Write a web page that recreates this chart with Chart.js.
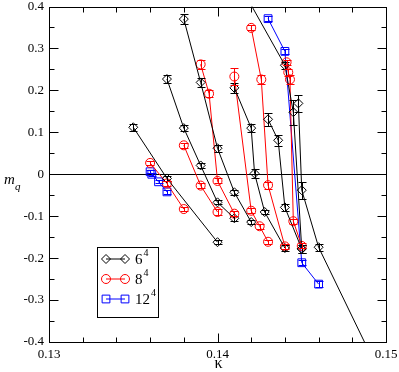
<!DOCTYPE html>
<html>
<head>
<meta charset="utf-8">
<script src="https://cdn.jsdelivr.net/npm/chart.js@4.4.0/dist/chart.umd.min.js"></script>
<style>
  body { margin: 0; background: #fff; }
  #wrap { width: 399px; height: 372px; }
</style>
</head>
<body>
<div id="wrap"><canvas id="chart" width="399" height="372"></canvas></div>
<script>
// kappa / m_q / error, one inner array per line of points
var kap6 = [
  [0.135, 0.137, 0.140],
  [0.137, 0.138, 0.139, 0.140, 0.141],
  [0.138, 0.139, 0.140, 0.141, 0.142],
  [0.141, 0.142, 0.1422, 0.1428, 0.144],
  [0.143, 0.1436, 0.144, 0.145],
  [0.141, 0.144, 0.1445, 0.145],
  [0.1448, 0.145, 0.146, 0.149]
];
var mq6 = [
  [0.112, -0.010, -0.162],
  [0.227, 0.110, 0.021, -0.067, -0.105],
  [0.370, 0.219, 0.062, -0.043, -0.114],
  [0.206, 0.110, 0.002, -0.090, -0.176],
  [0.131, 0.081, -0.079, -0.178],
  [0.475, 0.260, 0.148, -0.178],
  [0.169, -0.038, -0.174, -0.423]
];
var err6 = [
  [0.008, 0.005, 0.005],
  [0.010, 0.008, 0.006, 0.005, 0.006],
  [0.012, 0.010, 0.008, 0.006, 0.005],
  [0.012, 0.010, 0.010, 0.005, 0.008],
  [0.015, 0.013, 0.008, 0.010],
  [0, 0.008, 0.030, 0.010],
  [0.020, 0.020, 0.008, 0]
];

var kap8 = [
  [0.136, 0.137, 0.138],
  [0.138, 0.139, 0.140],
  [0.139, 0.1395, 0.140, 0.141],
  [0.141, 0.142, 0.1425, 0.143],
  [0.142, 0.1426, 0.143, 0.144],
  [0.1441, 0.1442, 0.1443, 0.1445, 0.145]
];
var mq8 = [
  [0.027, -0.022, -0.083],
  [0.069, -0.027, -0.090],
  [0.262, 0.192, -0.016, -0.094],
  [0.233, -0.087, -0.124, -0.161],
  [0.349, 0.226, -0.026, -0.172],
  [0.267, 0.243, 0.226, -0.112, -0.171]
];
var err8 = [
  [0.005, 0.005, 0.004],
  [0.006, 0.005, 0.006],
  [0.010, 0.008, 0.006, 0.006],
  [0.020, 0.006, 0.006, 0.005],
  [0.006, 0.010, 0.008, 0.006],
  [0.006, 0.008, 0.010, 0.006, 0.006]
];

var kap12 = [
  [0.1360, 0.1361, 0.1365, 0.1370],
  [0.143, 0.144, 0.145, 0.146]
];
var mq12 = [
  [0.006, 0.000, -0.018, -0.042],
  [0.371, 0.293, -0.211, -0.262]
];
var err12 = [
  [0.004, 0.004, 0.004, 0.005],
  [0.006, 0.006, 0.006, 0.008]
];

var xTicks = [0.13, 0.14, 0.15];
var yTicks = [-0.4, -0.3, -0.2, -0.1, 0, 0.1, 0.2, 0.3, 0.4];
var legendNames = ['6', '8', '12'];

var serif = '"Liberation Serif", "DejaVu Serif", serif';
var groups = [
  { k: kap6, m: mq6, e: err6, color: '#000000', style: 'rectRot', r: 4.5 },
  { k: kap8, m: mq8, e: err8, color: '#ff0000', style: 'circle', r: 4.5 },
  { k: kap12, m: mq12, e: err12, color: '#0000ff', style: 'rect', r: 5.5 }
];

var datasets = [];
groups.forEach(function (g) {
  for (var i = 0; i < g.k.length; i++) {
    var pts = [];
    for (var j = 0; j < g.k[i].length; j++) {
      pts.push({ x: g.k[i][j], y: g.m[i][j], e: g.e[i][j] });
    }
    datasets.push({
      data: pts,
      showLine: true,
      borderColor: g.color,
      borderWidth: 1,
      backgroundColor: 'rgba(0,0,0,0)',
      pointStyle: g.style,
      pointRadius: g.r,
      pointBorderWidth: 1,
      pointBorderColor: g.color,
      pointBackgroundColor: 'rgba(0,0,0,0)'
    });
  }
});

function isLabelX(v) { return xTicks.some(function (t) { return Math.abs(t - v) < 1e-7; }); }
function isLabelY(v) { return yTicks.some(function (t) { return Math.abs(t - v) < 1e-7; }); }

function noPad(s) {
  s.paddingTop = 0; s.paddingBottom = 0; s.paddingLeft = 0; s.paddingRight = 0;
}

var axesPlugin = {
  id: 'axesPlugin',
  beforeDatasetsDraw: function (chart) {
    var ctx = chart.ctx, a = chart.chartArea;
    var y0 = Math.round(chart.scales.y.getPixelForValue(0)) + 0.5;
    ctx.save();
    ctx.strokeStyle = '#000';
    ctx.lineWidth = 1;
    ctx.beginPath();
    ctx.moveTo(a.left, y0);
    ctx.lineTo(a.right, y0);
    ctx.stroke();
    ctx.restore();
  },
  afterDatasetsDraw: function (chart) {
    // error bars
    var ctx = chart.ctx, a = chart.chartArea;
    var xs = chart.scales.x, ys = chart.scales.y;
    ctx.save();
    ctx.beginPath();
    ctx.rect(a.left, a.top, a.right - a.left, a.bottom - a.top);
    ctx.clip();
    ctx.lineWidth = 1;
    chart.data.datasets.forEach(function (ds) {
      ctx.strokeStyle = ds.borderColor;
      ds.data.forEach(function (p) {
        if (!p.e) return;
        var x = Math.round(xs.getPixelForValue(p.x)) + 0.5;
        var yt = Math.round(ys.getPixelForValue(p.y + p.e)) + 0.5;
        var yb = Math.round(ys.getPixelForValue(p.y - p.e)) + 0.5;
        ctx.beginPath();
        ctx.moveTo(x, yt); ctx.lineTo(x, yb);
        ctx.moveTo(x - 4, yt); ctx.lineTo(x + 4, yt);
        ctx.moveTo(x - 4, yb); ctx.lineTo(x + 4, yb);
        ctx.stroke();
      });
    });
    ctx.restore();
  },
  afterDraw: function (chart) {
    var ctx = chart.ctx, a = chart.chartArea;
    var xs = chart.scales.x, ys = chart.scales.y;
    var L = Math.round(a.left) + 0.5, R = Math.round(a.right) + 0.5;
    var T = Math.round(a.top) + 0.5, B = Math.round(a.bottom) + 0.5;
    ctx.save();
    ctx.strokeStyle = '#000';
    ctx.lineWidth = 1;
    ctx.strokeRect(L, T, R - L, B - T);

    // inward ticks on all four sides
    ctx.beginPath();
    xs.ticks.forEach(function (t) {
      var x = Math.round(xs.getPixelForValue(t.value)) + 0.5;
      var len = isLabelX(t.value) ? 9 : 5;
      ctx.moveTo(x, B); ctx.lineTo(x, B - len);
      ctx.moveTo(x, T); ctx.lineTo(x, T + len);
    });
    ys.ticks.forEach(function (t) {
      var y = Math.round(ys.getPixelForValue(t.value)) + 0.5;
      var len = isLabelY(t.value) ? 9 : 5;
      ctx.moveTo(L, y); ctx.lineTo(L + len, y);
      ctx.moveTo(R, y); ctx.lineTo(R - len, y);
    });
    ctx.stroke();

    // axis titles
    ctx.fillStyle = '#000';
    ctx.textBaseline = 'alphabetic';
    ctx.textAlign = 'left';
    ctx.font = 'italic 15px ' + serif;
    ctx.fillText('m', 4, 184);
    ctx.font = 'italic 11px ' + serif;
    ctx.fillText('q', 15, 190);
    ctx.textAlign = 'center';
    ctx.font = '16px ' + serif;
    ctx.fillText('\u03ba', (a.left + a.right) / 2 + 1, 368);

    // legend
    var bx = a.left + 48, by = a.top + 240, bw = 61, bh = 70;
    ctx.strokeRect(Math.round(bx) + 0.5, Math.round(by) + 0.5, bw, bh);
    groups.forEach(function (g, i) {
      var yy = by + 12.5 + i * 20;
      var x1 = bx + 9, x2 = bx + 28;
      ctx.strokeStyle = g.color;
      ctx.beginPath();
      ctx.moveTo(x1, yy); ctx.lineTo(x2, yy);
      ctx.stroke();
      ctx.fillStyle = 'rgba(0,0,0,0)';
      Chart.helpers.drawPoint(ctx, { pointStyle: g.style, radius: g.r, borderWidth: 1, rotation: 0 }, x1, yy);
      Chart.helpers.drawPoint(ctx, { pointStyle: g.style, radius: g.r, borderWidth: 1, rotation: 0 }, x2, yy);
      ctx.fillStyle = '#000';
      ctx.textAlign = 'left';
      ctx.font = '15px ' + serif;
      ctx.fillText(legendNames[i], bx + 38, yy + 5);
      var w = ctx.measureText(legendNames[i]).width;
      ctx.font = '10px ' + serif;
      ctx.fillText('4', bx + 39 + w, yy - 3);
    });
    ctx.restore();
  }
};

var ctx = document.getElementById('chart').getContext('2d');
var chart = new Chart(ctx, {
  type: 'scatter',
  data: { datasets: datasets },
  options: {
    responsive: false,
    animation: false,
    layout: { padding: { left: 0, right: 13, top: 6, bottom: 0 } },
    plugins: { legend: { display: false }, tooltip: { enabled: false } },
    scales: {
      x: {
        type: 'linear',
        min: 0.13, max: 0.15,
        grid: { display: false, drawTicks: false },
        border: { display: false },
        ticks: {
          stepSize: 0.002, autoSkip: false, maxRotation: 0, padding: 5,
          color: '#000', font: { family: serif, size: 13 },
          callback: function (v) { return isLabelX(v) ? v.toFixed(2) : ''; }
        },
        afterFit: function (s) { s.height = 30; noPad(s); }
      },
      y: {
        type: 'linear',
        min: -0.4, max: 0.4,
        grid: { display: false, drawTicks: false },
        border: { display: false },
        ticks: {
          stepSize: 0.05, autoSkip: false, padding: 5,
          color: '#000', font: { family: serif, size: 13 },
          callback: function (v) {
            if (!isLabelY(v)) return '';
            return Math.abs(v) < 1e-9 ? '0' : v.toFixed(1);
          }
        },
        afterFit: function (s) { s.width = 49; noPad(s); }
      }
    }
  },
  plugins: [axesPlugin]
});
</script>
</body>
</html>
